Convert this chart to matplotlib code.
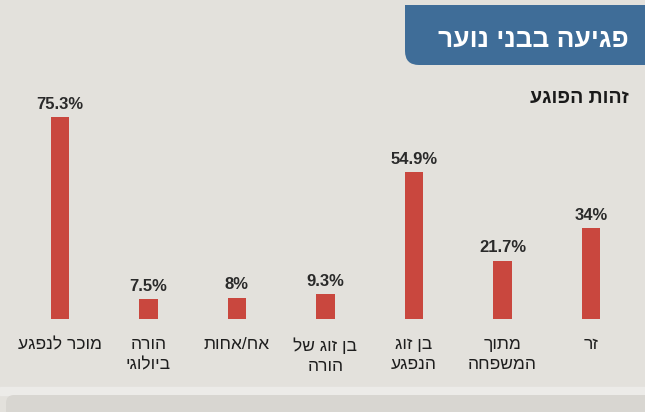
import matplotlib.pyplot as plt
from matplotlib.patches import FancyBboxPatch, Rectangle

# data, in Hebrew reading order (right to left on the chart)
categories = ["זר", "מתוך\nהמשפחה", "בן זוג\nהנפגע", "בן זוג של\nהורה", "אח/אחות", "הורה\nביולוגי", "מוכר לנפגע"]
values = [34, 21.7, 54.9, 9.3, 8, 7.5, 75.3]
value_labels = ["34%", "21.7%", "54.9%", "9.3%", "8%", "7.5%", "75.3%"]
title = "פגיעה בבני נוער"
subtitle = "זהות הפוגע"

paper = "#e3e1dc"
bar_red = "#c9473e"
header_blue = "#3f6d98"


def rtl(s):
    # matplotlib has no bidi support, so flip each line for display
    return "\n".join(line[::-1] for line in s.split("\n"))


plt.rcParams["font.family"] = ["Liberation Sans", "DejaVu Sans"]

W, H = 645, 412
fig = plt.figure(figsize=(W / 100, H / 100), dpi=100)
fig.patch.set_facecolor(paper)

# background / decoration layer in pixel coords
bg = fig.add_axes([0, 0, 1, 1])
bg.set_xlim(0, W)
bg.set_ylim(H, 0)
bg.axis("off")
bg.add_patch(Rectangle((0, 387), W, 8, color="#ecebe8", zorder=0))
bg.add_patch(FancyBboxPatch((6, 395), 700, 60, boxstyle="round,pad=0,rounding_size=8",
                            fc="#d8d6d1", ec="none", zorder=0))
bg.add_patch(FancyBboxPatch((405, 5), 280, 60, boxstyle="round,pad=0,rounding_size=14",
                            fc=header_blue, ec="none", zorder=1))
bg.add_patch(Rectangle((405, 5), 20, 20, fc=header_blue, ec="none", zorder=1))
bg.text(629, 40, rtl(title), color="white", fontsize=19, fontweight="bold",
        ha="right", va="center", zorder=2)
bg.text(629, 98, rtl(subtitle), color="#1a1a1a", fontsize=14, fontweight="bold",
        ha="right", va="center")

# bar chart
ax = fig.add_axes([15.75 / W, 93 / H, 619.5 / W, 214.4 / H])
ax.set_facecolor("none")
x = list(range(len(values)))
ax.bar(x, values, width=0.214, color=bar_red)
for xi, v, lab in zip(x, values, value_labels):
    ax.text(xi, v + 2.0, lab, ha="center", va="bottom", fontsize=12,
            fontweight="bold", color="#2a2a2a")
ax.set_xlim(6.5, -0.5)
ax.set_ylim(0, 80)
ax.set_xticks(x)
ax.set_xticklabels([rtl(c) for c in categories], fontsize=12.5, color="#1e1e1e",
                   linespacing=1.45, va="top")
ax.tick_params(axis="x", length=0, pad=13)
ax.set_yticks([])
for s in ax.spines.values():
    s.set_visible(False)

fig.savefig("out.png", dpi=100, facecolor=fig.get_facecolor())
